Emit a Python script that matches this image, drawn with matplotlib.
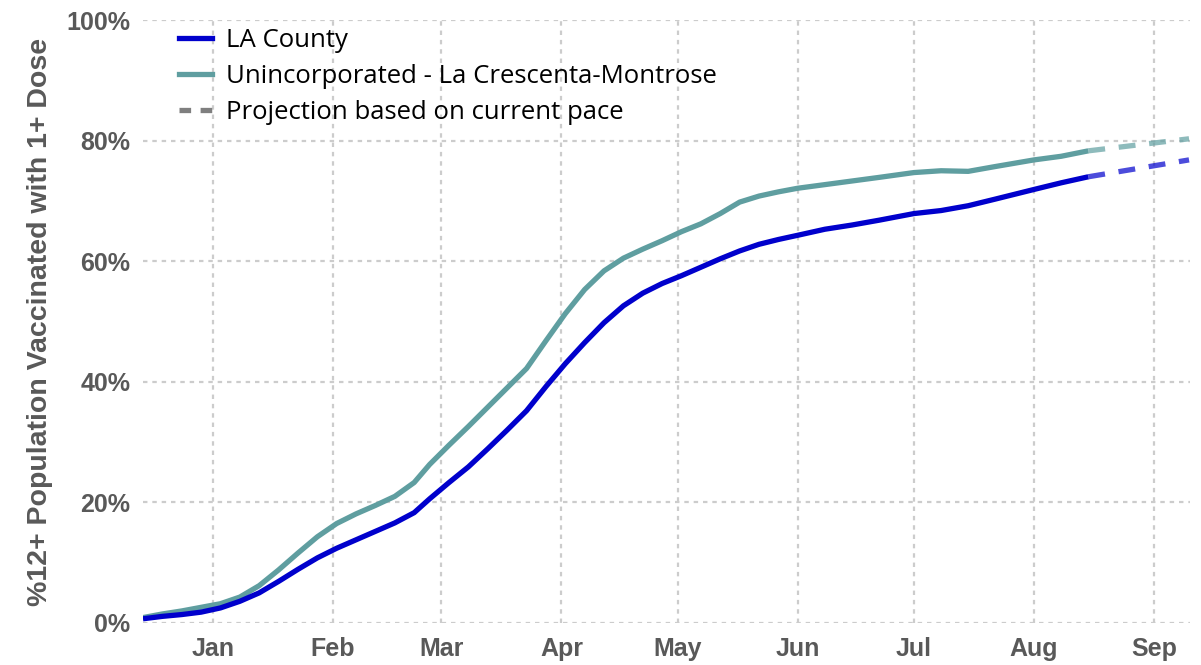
import pandas as pd
import matplotlib
matplotlib.use("Agg")
import matplotlib.pyplot as plt
import matplotlib.dates as mdates
from matplotlib.lines import Line2D

# values (% of 12+ population with 1+ dose)
dates = ["2020-12-14", "2020-12-19", "2020-12-24", "2020-12-29", "2021-01-03",
         "2021-01-08", "2021-01-13", "2021-01-18", "2021-01-23", "2021-01-28",
         "2021-02-02", "2021-02-07", "2021-02-12", "2021-02-17", "2021-02-22",
         "2021-02-26", "2021-03-03", "2021-03-08", "2021-03-13", "2021-03-18",
         "2021-03-23", "2021-03-28", "2021-04-02", "2021-04-07", "2021-04-12",
         "2021-04-17", "2021-04-22", "2021-04-27", "2021-05-02", "2021-05-07",
         "2021-05-12", "2021-05-17", "2021-05-22", "2021-05-27", "2021-06-01",
         "2021-06-08", "2021-06-15", "2021-06-22", "2021-07-01", "2021-07-08",
         "2021-07-15", "2021-07-22", "2021-08-01", "2021-08-08", "2021-08-15"]
la_county = [0.7, 1.1, 1.4, 1.8, 2.5, 3.6, 5.0, 6.9, 8.9, 10.8,
             12.4, 13.8, 15.2, 16.6, 18.3, 20.6, 23.3, 25.9, 28.9, 32.0,
             35.2, 39.2, 43.0, 46.5, 49.8, 52.6, 54.7, 56.3, 57.6, 59.0,
             60.4, 61.7, 62.8, 63.6, 64.3, 65.3, 66.0, 66.8, 67.9, 68.4,
             69.2, 70.3, 71.9, 73.0, 74.0]
la_crescenta = [0.9, 1.5, 2.0, 2.6, 3.2, 4.3, 6.2, 8.8, 11.6, 14.3,
                16.5, 18.1, 19.5, 21.0, 23.3, 26.3, 29.5, 32.6, 35.8, 39.0,
                42.2, 46.8, 51.3, 55.3, 58.4, 60.5, 62.0, 63.4, 64.9, 66.2,
                67.9, 69.8, 70.8, 71.5, 72.1, 72.7, 73.3, 73.9, 74.7, 75.0,
                74.9, 75.7, 76.8, 77.4, 78.3]

proj_dates = ["2021-08-15", "2021-09-10"]
la_county_proj = [74.0, 76.8]
la_crescenta_proj = [78.3, 80.3]

month_ticks = ["2021-01-01", "2021-02-01", "2021-03-01", "2021-04-01", "2021-05-01",
               "2021-06-01", "2021-07-01", "2021-08-01", "2021-09-01"]
y_ticks = [0, 20, 40, 60, 80, 100]

blue = "#0000CC"
teal = "#5F9EA0"
gray_txt = "#595959"

x = pd.to_datetime(dates)
xp = pd.to_datetime(proj_dates)

fig = plt.figure(figsize=(12.01, 6.65), dpi=100)
ax = fig.add_axes([143 / 1201, (665 - 623) / 665, 1047 / 1201, 603 / 665])

ax.plot(x, la_crescenta, color=teal, lw=3.8, solid_capstyle="butt",
        solid_joinstyle="round", zorder=3)
ax.plot(x, la_county, color=blue, lw=3.8, solid_capstyle="butt",
        solid_joinstyle="round", zorder=4)
ax.plot(xp, la_crescenta_proj, color=teal, lw=3.8, alpha=0.7,
        dashes=(3.2, 2.6), zorder=3)
ax.plot(xp, la_county_proj, color=blue, lw=3.8, alpha=0.7,
        dashes=(3.2, 2.6), zorder=4)

ax.set_xlim(pd.Timestamp("2020-12-14"), pd.Timestamp("2021-09-10 06:00"))
ax.set_ylim(0, 100)

ax.set_xticks(pd.to_datetime(month_ticks))
ax.xaxis.set_major_formatter(mdates.DateFormatter("%b"))
ax.set_yticks(y_ticks)
ax.set_yticklabels([f"{v}%" for v in y_ticks])

for lab in ax.get_xticklabels() + ax.get_yticklabels():
    lab.set_fontfamily("Liberation Sans")
    lab.set_fontweight("bold")
    lab.set_color(gray_txt)
    lab.set_fontsize(18)
ax.tick_params(length=0, pad=9)
ax.tick_params(axis="x", pad=10)

ax.grid(True, color="#CCCCCC", lw=1.6, linestyle=(0, (2, 2.2)))
ax.set_axisbelow(True)
for s in ax.spines.values():
    s.set_visible(False)

ax.set_ylabel("%12+ Population Vaccinated with 1+ Dose", fontsize=20.5,
              fontweight="bold", color=gray_txt, family="Liberation Sans",
              labelpad=10)

handles = [Line2D([], [], color=blue, lw=3.8),
           Line2D([], [], color=teal, lw=3.8),
           Line2D([], [], color="#7F7F7F", lw=3.8, dashes=(2.2, 1.8))]
labels = ["LA County", "Unincorporated - La Crescenta-Montrose",
          "Projection based on current pace"]
ax.legend(handles, labels, loc="upper left", bbox_to_anchor=(0.012, 1.025),
          frameon=False, handlelength=1.3, handletextpad=0.55,
          labelspacing=0.42, prop={"family": "Open Sans", "size": 18.5})

fig.savefig("out.png", dpi=100)
